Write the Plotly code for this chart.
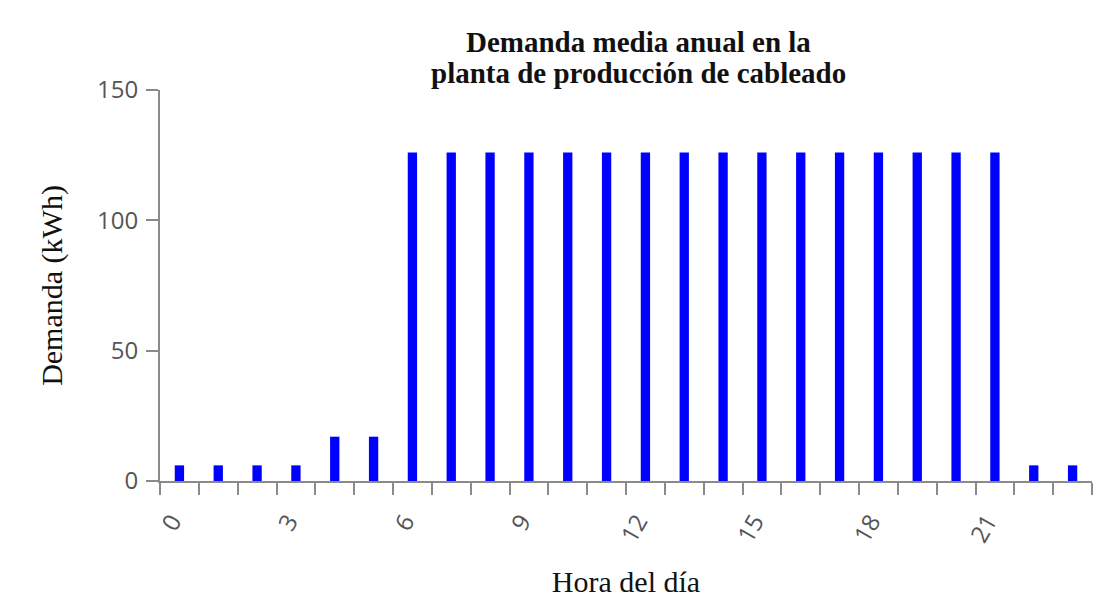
import plotly.graph_objects as go

# Data
hours = list(range(24))
demand = [6, 6, 6, 6, 17, 17] + [126] * 16 + [6, 6]
x_tick_vals = list(range(25))
x_tick_text = [str(h) if (h % 3 == 0 and h < 24) else "" for h in x_tick_vals]
y_tick_vals = [0, 50, 100, 150]

title_line1 = "Demanda media anual en la"
title_line2 = "planta de producción de cableado"
x_title = "Hora del día"
y_title = "Demanda (kWh)"

serif = "Liberation Serif, Times New Roman, serif"
sans = "Open Sans, Noto Sans, sans-serif"
axis_gray = "#8a8a8a"

fig = go.Figure()
fig.add_trace(go.Bar(
    x=[h + 0.5 for h in hours],
    y=demand,
    width=0.24,
    marker=dict(color="#0000FF", line=dict(width=0)),
    showlegend=False,
))

fig.update_layout(
    width=1103,
    height=590,
    margin=dict(l=152, r=19, t=82, b=117),
    paper_bgcolor="white",
    plot_bgcolor="white",
    xaxis=dict(
        automargin=False,
        range=[0, 24],
        tickmode="array",
        tickvals=x_tick_vals,
        ticktext=x_tick_text,
        tickangle=-60,
        ticks="outside",
        ticklen=12,
        tickwidth=1.5,
        tickcolor=axis_gray,
        showline=True,
        linecolor=axis_gray,
        linewidth=2,
        showgrid=False,
        zeroline=False,
        tickfont=dict(family=sans, size=24, color="#555555"),
        ticklabelshift=12,
        ticklabelstandoff=3,
        title=dict(text=x_title, font=dict(family=serif, size=30, color="#111111"), standoff=25),
    ),
    yaxis=dict(
        automargin=False,
        range=[0, 150],
        tickmode="array",
        tickvals=y_tick_vals,
        ticks="outside",
        ticklen=12,
        tickwidth=1.5,
        tickcolor=axis_gray,
        showline=True,
        linecolor=axis_gray,
        linewidth=2,
        showgrid=False,
        zeroline=False,
        tickfont=dict(family=sans, size=24, color="#555555"),
        ticklabelstandoff=3,
        title=dict(text=y_title, font=dict(family=serif, size=30, color="#111111"), standoff=26),
    ),
    annotations=[
        dict(text="<b>" + title_line1 + "</b>", xref="paper", yref="paper",
             x=0.513, y=1.1228, xanchor="center", yanchor="middle", showarrow=False,
             font=dict(family=serif, size=29, color="#111111")),
        dict(text="<b>" + title_line2 + "</b>", xref="paper", yref="paper",
             x=0.513, y=1.0435, xanchor="center", yanchor="middle", showarrow=False,
             font=dict(family=serif, size=29, color="#111111")),
    ],
)

fig.write_html("out.html")
